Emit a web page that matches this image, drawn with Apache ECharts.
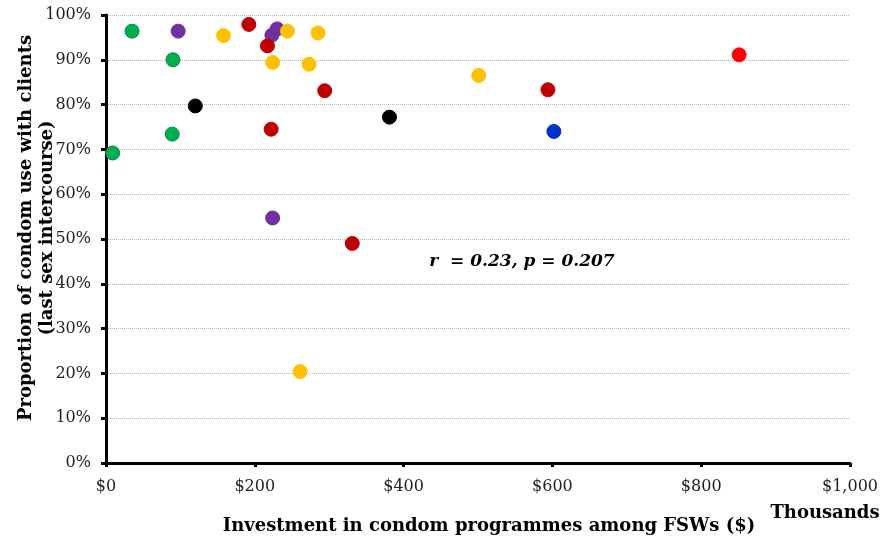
<!DOCTYPE html>
<html>
<head>
<meta charset="utf-8">
<script src="https://cdn.jsdelivr.net/npm/echarts@6/dist/echarts.min.js"></script>
<style>
  html, body { margin: 0; padding: 0; background: #fff; }
  #chart { width: 893px; height: 541px; }
</style>
</head>
<body>
<div id="chart"></div>
<script>
// Investment (thousands of $) vs. proportion of condom use (%), grouped by marker colour
const greenX  = [9, 35, 90, 89];
const greenY  = [69.2, 96.4, 90.0, 73.4];
const purpleX = [97, 223, 230, 224];
const purpleY = [96.4, 95.5, 96.9, 54.7];
const blackX  = [120, 381];
const blackY  = [79.7, 77.2];
const darkRedX = [192, 217, 294, 222, 331, 594];
const darkRedY = [97.9, 93.1, 83.1, 74.5, 49.0, 83.3];
const redX = [851];
const redY = [91.1];
const blueX = [602];
const blueY = [74.0];
const yellowX = [158, 224, 244, 285, 273, 501, 261];
const yellowY = [95.4, 89.4, 96.4, 96.0, 89.0, 86.5, 20.4];

const xTicks = [0, 200, 400, 600, 800, 1000];
const yTicks = [0, 10, 20, 30, 40, 50, 60, 70, 80, 90, 100];

const groups = [
  { name: 'green',   xs: greenX,   ys: greenY,   color: '#00B050', border: '#00883C' },
  { name: 'purple',  xs: purpleX,  ys: purpleY,  color: '#7030A0', border: '#7030A0' },
  { name: 'black',   xs: blackX,   ys: blackY,   color: '#000000', border: '#000000' },
  { name: 'darkred', xs: darkRedX, ys: darkRedY, color: '#C00000', border: '#C00000' },
  { name: 'red',     xs: redX,     ys: redY,     color: '#FF0000', border: '#FF0000' },
  { name: 'blue',    xs: blueX,    ys: blueY,    color: '#0033CC', border: '#0033CC' },
  { name: 'yellow',  xs: yellowX,  ys: yellowY,  color: '#FFC000', border: '#FFC000' }
];

const serif = '"DejaVu Serif", "Liberation Serif", serif';

const chart = echarts.init(document.getElementById('chart'), null, { renderer: 'canvas' });

chart.setOption({
  animation: false,
  backgroundColor: '#ffffff',
  grid: { left: 106, right: 43, top: 15, bottom: 78, containLabel: false, outerBoundsMode: 'none' },
  xAxis: {
    type: 'value',
    min: xTicks[0],
    max: xTicks[xTicks.length - 1],
    interval: 200,
    axisLine: { show: true, onZero: false, lineStyle: { color: '#000', width: 3 } },
    axisTick: { show: true, length: 4, lineStyle: { color: '#000', width: 3 } },
    splitLine: { show: false },
    axisLabel: {
      margin: 16,
      color: '#222',
      fontFamily: serif,
      fontSize: 16,
      formatter: v => '$' + v.toLocaleString('en-US')
    }
  },
  yAxis: {
    type: 'value',
    min: yTicks[0],
    max: yTicks[yTicks.length - 1],
    interval: 10,
    axisLine: { show: true, onZero: false, lineStyle: { color: '#000', width: 3 } },
    axisTick: { show: true, length: 5, lineStyle: { color: '#000', width: 3 } },
    splitLine: { show: true, lineStyle: { color: '#b4b4b4', type: [1, 1], width: 1 } },
    axisLabel: {
      margin: 15,
      color: '#222',
      fontFamily: serif,
      fontSize: 16,
      formatter: v => v + '%'
    }
  },
  series: groups.map(g => ({
    name: g.name,
    type: 'scatter',
    symbol: 'circle',
    symbolSize: 14,
    itemStyle: { color: g.color, borderColor: g.border, borderWidth: 1, opacity: 1 },
    data: g.xs.map((x, i) => [x, g.ys[i]])
  })),
  graphic: [
    {
      type: 'text',
      x: 37, y: 228,
      rotation: Math.PI / 2,
      style: {
        text: 'Proportion of condom use with clients\n(last sex intercourse)',
        font: 'bold 18px ' + serif,
        fill: '#000',
        align: 'center',
        verticalAlign: 'middle',
        lineHeight: 21
      }
    },
    {
      type: 'text',
      x: 489, y: 526,
      style: {
        text: 'Investment in condom programmes among FSWs ($)',
        font: 'bold 18px ' + serif,
        fill: '#000',
        align: 'center',
        verticalAlign: 'middle'
      }
    },
    {
      type: 'text',
      x: 825, y: 513,
      style: {
        text: 'Thousands',
        font: 'bold 18px ' + serif,
        fill: '#000',
        align: 'center',
        verticalAlign: 'middle'
      }
    },
    {
      type: 'text',
      x: 522, y: 262,
      style: {
        text: 'r  = 0.23, p = 0.207',
        font: 'italic bold 17px ' + serif,
        fill: '#000',
        align: 'center',
        verticalAlign: 'middle'
      }
    }
  ]
});
</script>
</body>
</html>
